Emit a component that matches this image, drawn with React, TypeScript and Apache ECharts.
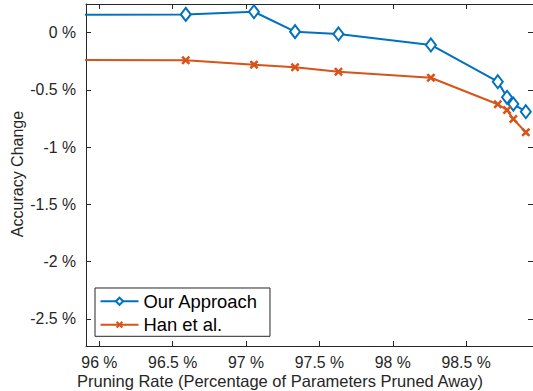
import React, { useEffect, useRef } from "react";
import * as echarts from "echarts";

const pruningRate = [95.85, 96.589, 97.054, 97.334, 97.63, 98.26, 98.716, 98.779, 98.822, 98.907];
const ourApproach = [0.157, 0.16, 0.183, 0.009, -0.011, -0.107, -0.428, -0.564, -0.623, -0.69];
const hanEtAl = [-0.238, -0.241, -0.279, -0.302, -0.341, -0.393, -0.625, -0.675, -0.754, -0.87];
const xTicks = [96, 96.5, 97, 97.5, 98, 98.5];
const yTicks = [0, -0.5, -1, -1.5, -2, -2.5];

const FONT = "'Liberation Sans', Arial, Helvetica, sans-serif";
const AXIS = "#262626";
const X_SYMBOL =
  "path://M0,2L2,0L5,3L8,0L10,2L7,5L10,8L8,10L5,7L2,10L0,8L3,5Z";

function fmt(v: number) {
  return `${Math.round(v * 10) / 10} %`;
}

export default function App() {
  const ref = useRef<HTMLDivElement>(null);
  useEffect(() => {
    document.body.style.margin = "0";
    const chart = echarts.init(ref.current!, null, { renderer: "svg" });
    const xBase = {
      type: "value" as const,
      min: 95.909,
      max: 98.956,
      splitLine: { show: false },
      axisLine: { show: true, onZero: false, lineStyle: { color: AXIS, width: 1 } },
      axisTick: { show: true, inside: true, length: 5, customValues: xTicks, lineStyle: { color: AXIS } },
    };
    const yBase = {
      type: "value" as const,
      min: -2.736,
      max: 0.2507,
      splitLine: { show: false },
      axisLine: { show: true, onZero: false, lineStyle: { color: AXIS, width: 1 } },
      axisTick: { show: true, inside: true, length: 5, customValues: yTicks, lineStyle: { color: AXIS } },
    };
    chart.setOption({
      animation: false,
      backgroundColor: "#fff",
      grid: { left: 86, right: 0, top: 4, bottom: 45 },
      xAxis: [
        {
          ...xBase,
          position: "bottom",
          axisLabel: {
            customValues: xTicks,
            formatter: fmt,
            color: AXIS,
            fontFamily: FONT,
            fontSize: 15.8,
            margin: 8,
          },
        },
        {
          ...xBase,
          position: "top",
          axisLabel: { show: false },
        },
      ],
      yAxis: [
        {
          ...yBase,
          position: "left",
          axisLabel: {
            customValues: yTicks,
            formatter: fmt,
            color: AXIS,
            fontFamily: FONT,
            fontSize: 15.8,
            margin: 10,
          },
        },
        {
          ...yBase,
          position: "right",
          axisLabel: { show: false },
        },
      ],
      legend: {
        orient: "vertical",
        left: 95,
        top: 288,
        itemWidth: 38,
        itemHeight: 9,
        itemGap: 3.4,
        padding: [3.3, 12, 1.6, 4.5],
        borderColor: AXIS,
        borderWidth: 1,
        backgroundColor: "#fff",
        textStyle: { color: "#000", fontFamily: FONT, fontSize: 18.4, lineHeight: 20 },
        data: ["Our Approach", "Han et al."],
      },
      graphic: [
        {
          type: "text",
          x: 280,
          y: 381,
          style: {
            text: "Pruning Rate (Percentage of Parameters Pruned Away)",
            fill: AXIS,
            font: `16.5px ${FONT}`,
            align: "center",
            verticalAlign: "middle",
          },
        },
        {
          type: "text",
          x: 17,
          y: 174,
          rotation: Math.PI / 2,
          style: {
            text: "Accuracy Change",
            fill: AXIS,
            font: `16px ${FONT}`,
            align: "center",
            verticalAlign: "middle",
          },
        },
      ],
      series: [
        {
          name: "Our Approach",
          type: "line",
          data: pruningRate.map((x, i) => [x, ourApproach[i]]),
          symbol: "emptyDiamond",
          symbolSize: [10, 13],
          clip: true,
          color: "#0072BD",
          lineStyle: { width: 2, color: "#0072BD" },
          itemStyle: { color: "#0072BD", borderColor: "#0072BD", borderWidth: 2 },
        },
        {
          name: "Han et al.",
          type: "line",
          data: pruningRate.map((x, i) => [x, hanEtAl[i]]),
          symbol: X_SYMBOL,
          symbolSize: 9,
          clip: true,
          color: "#D95319",
          lineStyle: { width: 2, color: "#D95319" },
          itemStyle: { color: "#D95319" },
        },
      ],
    });
    return () => chart.dispose();
  }, []);
  return <div ref={ref} style={{ width: 533, height: 391 }} />;
}
